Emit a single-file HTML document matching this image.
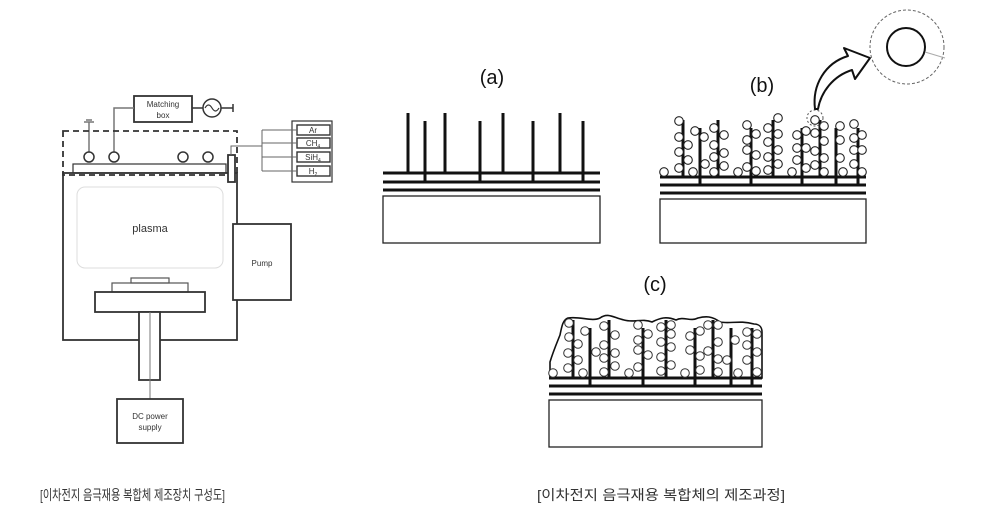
<!DOCTYPE html>
<html><head><meta charset="utf-8"><style>
html,body{margin:0;padding:0;background:#fff}
svg{display:block}
text{font-family:"Liberation Sans","Noto Sans CJK KR",sans-serif}
</style></head><body>
<svg width="990" height="510" viewBox="0 0 990 510" xmlns="http://www.w3.org/2000/svg">
<g fill="none" stroke="#333" stroke-width="1.5">
  <!-- matching box -->
  <rect x="134" y="96" width="58" height="26" stroke-width="1.8"/>
  <line x1="192" y1="108" x2="203" y2="108"/>
  <circle cx="212" cy="108" r="9"/>
  <path d="M205,108 q3.5,-6 7,0 t7,0" stroke-width="1.2"/>
  <line x1="221" y1="108" x2="233" y2="108"/>
  <line x1="233" y1="104" x2="233" y2="112"/>
  <!-- wire from box to circle -->
  <polyline points="134,108 114,108 114,152" stroke="#777"/>
  <line x1="89" y1="152" x2="89" y2="122" stroke="#777"/>
  <path d="M84,122 h10 M86,120 h6" stroke="#777"/>
  <!-- dashed rect -->
  <rect x="63" y="131" width="174" height="44" stroke-dasharray="6,4" stroke-width="1.8"/>
  <circle cx="89" cy="157" r="5"/><circle cx="114" cy="157" r="5"/>
  <circle cx="183" cy="157" r="5"/><circle cx="208" cy="157" r="5"/>
  <rect x="73" y="164" width="153" height="9" stroke-width="1.2"/>
  <!-- chamber -->
  <rect x="63" y="173" width="174" height="167" stroke-width="1.8"/>
  <rect x="228" y="155" width="7" height="27" fill="#fff" stroke-width="1.8"/>
  <rect x="77" y="187" width="146" height="81" rx="8" stroke="#ddd" stroke-width="1"/>
  <!-- gas -->
  <rect x="292" y="121" width="40" height="61" stroke-width="1.2"/>
  <rect x="297" y="125" width="33" height="10" stroke-width="1.4"/>
  <rect x="297" y="138" width="33" height="10" stroke-width="1.4"/>
  <rect x="297" y="152" width="33" height="10" stroke-width="1.4"/>
  <rect x="297" y="166" width="33" height="10" stroke-width="1.4"/>
  <g stroke="#666" stroke-width="1">
  <line x1="262" y1="130" x2="262" y2="171"/>
  <line x1="262" y1="130" x2="297" y2="130"/>
  <line x1="262" y1="143" x2="297" y2="143"/>
  <line x1="262" y1="157" x2="297" y2="157"/>
  <line x1="262" y1="171" x2="297" y2="171"/>
  <polyline points="231,155 231,146 262,146"/>
  </g>
  <!-- pump -->
  <rect x="233" y="224" width="58" height="76" stroke-width="1.8" fill="#fff"/>
  <!-- stage -->
  <rect x="131" y="278" width="38" height="5" stroke="#555" stroke-width="1.2"/>
  <rect x="112" y="283" width="76" height="9" stroke="#555" stroke-width="1.2"/>
  <rect x="95" y="292" width="110" height="20" stroke-width="1.8"/>
  <rect x="139" y="312" width="21" height="68" stroke-width="1.8" fill="#fff"/>
  <line x1="150" y1="312" x2="150" y2="399" stroke="#777" stroke-width="1"/>
  <rect x="117" y="399" width="66" height="44" stroke-width="1.8"/>
</g>
<g fill="#333" font-size="8" text-anchor="middle">
  <text x="163" y="107">Matching</text><text x="163" y="118">box</text>
  <text x="313" y="133">Ar</text>
  <text x="313" y="146">CH<tspan font-size="5" dy="2">4</tspan></text>
  <text x="313" y="160">SiH<tspan font-size="5" dy="2">4</tspan></text>
  <text x="313" y="174">H<tspan font-size="5" dy="2">2</tspan></text>
  <text x="150" y="232" font-size="11">plasma</text>
  <text x="262" y="266">Pump</text>
  <text x="150" y="419">DC power</text><text x="150" y="430">supply</text>
</g>

<!-- (a) -->
<text x="492" y="84" font-size="20" fill="#111" text-anchor="middle">(a)</text>
<g stroke="#111" stroke-width="3">
  <line x1="383" y1="173" x2="600" y2="173"/>
  <line x1="383" y1="182" x2="600" y2="182"/>
  <line x1="383" y1="190" x2="600" y2="190"/>
  <line x1="408" y1="113" x2="408" y2="173"/><line x1="425" y1="121" x2="425" y2="182"/>
  <line x1="445" y1="113" x2="445" y2="173"/><line x1="480" y1="121" x2="480" y2="182"/>
  <line x1="503" y1="113" x2="503" y2="173"/><line x1="533" y1="121" x2="533" y2="182"/>
  <line x1="560" y1="113" x2="560" y2="173"/><line x1="583" y1="121" x2="583" y2="182"/>
</g>
<rect x="383" y="196" width="217" height="47" fill="none" stroke="#222" stroke-width="1.3"/>

<!-- (b) -->
<text x="762" y="92" font-size="20" fill="#111" text-anchor="middle">(b)</text>
<g stroke="#111" stroke-width="3">
  <line x1="660" y1="177" x2="866" y2="177"/>
  <line x1="660" y1="185" x2="866" y2="185"/>
  <line x1="660" y1="193" x2="866" y2="193"/>
  <line x1="683" y1="120" x2="683" y2="177"/><line x1="700" y1="128" x2="700" y2="185"/>
  <line x1="718" y1="120" x2="718" y2="177"/><line x1="751" y1="128" x2="751" y2="185"/>
  <line x1="773" y1="120" x2="773" y2="177"/><line x1="802" y1="128" x2="802" y2="185"/>
  <line x1="820" y1="120" x2="820" y2="177"/><line x1="836" y1="128" x2="836" y2="185"/>
  <line x1="858" y1="128" x2="858" y2="185"/>
</g>
<rect x="660" y="199" width="206" height="44" fill="none" stroke="#222" stroke-width="1.3"/>
<g fill="#fff" stroke="#222" stroke-width="1.1">
  <circle cx="664" cy="172" r="4.3"/><circle cx="679" cy="121" r="4.3"/><circle cx="679" cy="137" r="4.3"/>
  <circle cx="679" cy="152" r="4.3"/><circle cx="679" cy="168" r="4.3"/><circle cx="688" cy="145" r="4.3"/>
  <circle cx="688" cy="160" r="4.3"/><circle cx="693" cy="172" r="4.3"/><circle cx="695" cy="131" r="4.3"/>
  <circle cx="704" cy="137" r="4.3"/><circle cx="705" cy="164" r="4.3"/><circle cx="714" cy="128" r="4.3"/>
  <circle cx="714" cy="145" r="4.3"/><circle cx="714" cy="157" r="4.3"/><circle cx="714" cy="172" r="4.3"/>
  <circle cx="724" cy="135" r="4.3"/><circle cx="724" cy="153" r="4.3"/><circle cx="724" cy="166" r="4.3"/>
  <circle cx="738" cy="172" r="4.3"/><circle cx="747" cy="125" r="4.3"/><circle cx="747" cy="140" r="4.3"/>
  <circle cx="747" cy="150" r="4.3"/><circle cx="747" cy="167" r="4.3"/><circle cx="756" cy="134" r="4.3"/>
  <circle cx="756" cy="155" r="4.3"/><circle cx="756" cy="171" r="4.3"/><circle cx="768" cy="128" r="4.3"/>
  <circle cx="768" cy="142" r="4.3"/><circle cx="768" cy="157" r="4.3"/><circle cx="768" cy="170" r="4.3"/>
  <circle cx="778" cy="118" r="4.3"/><circle cx="778" cy="134" r="4.3"/><circle cx="778" cy="150" r="4.3"/>
  <circle cx="778" cy="164" r="4.3"/><circle cx="792" cy="172" r="4.3"/><circle cx="797" cy="135" r="4.3"/>
  <circle cx="797" cy="148" r="4.3"/><circle cx="797" cy="160" r="4.3"/><circle cx="806" cy="131" r="4.3"/>
  <circle cx="806" cy="148" r="4.3"/><circle cx="806" cy="168" r="4.3"/><circle cx="815" cy="120" r="4.3"/>
  <circle cx="815" cy="133" r="4.3"/><circle cx="815" cy="151" r="4.3"/><circle cx="815" cy="165" r="4.3"/>
  <circle cx="824" cy="126" r="4.3"/><circle cx="824" cy="141" r="4.3"/><circle cx="824" cy="158" r="4.3"/>
  <circle cx="824" cy="172" r="4.3"/><circle cx="840" cy="126" r="4.3"/><circle cx="840" cy="140" r="4.3"/>
  <circle cx="840" cy="158" r="4.3"/><circle cx="843" cy="172" r="4.3"/><circle cx="854" cy="124" r="4.3"/>
  <circle cx="854" cy="138" r="4.3"/><circle cx="854" cy="150" r="4.3"/><circle cx="854" cy="164" r="4.3"/>
  <circle cx="862" cy="135" r="4.3"/><circle cx="862" cy="150" r="4.3"/><circle cx="862" cy="172" r="4.3"/>
</g>
<circle cx="815" cy="118" r="8" fill="none" stroke="#555" stroke-width="1" stroke-dasharray="2,2"/>
<path d="M815,109 C812,85 825,63 848,56 L844,48 L870,58 L855,79 L852,70 C833,76 821,92 818,109 Z" fill="#fff" stroke="#111" stroke-width="2" stroke-linejoin="round"/>
<circle cx="907" cy="47" r="37" fill="none" stroke="#666" stroke-width="1" stroke-dasharray="3,2"/>
<circle cx="906" cy="47" r="19" fill="none" stroke="#111" stroke-width="2"/>
<line x1="925" y1="52" x2="945" y2="58" stroke="#aaa" stroke-width="1"/>

<!-- (c) -->
<text x="655" y="291" font-size="20" fill="#111" text-anchor="middle">(c)</text>
<path d="M550,378 L550,362 C553,352 556,345 560,335 C562,325 563,320 568,318 C580,316 592,322 600,318 C608,312 614,318 624,320 C634,323 642,318 652,322 C660,318 666,316 676,320 C684,316 690,322 698,318 C706,316 712,316 720,322 C730,324 740,320 754,324 C760,324 762,328 762,332 L762,378 Z" fill="#fff" stroke="#111" stroke-width="1.6"/>
<g stroke="#111" stroke-width="3">
  <line x1="549" y1="378" x2="762" y2="378"/>
  <line x1="549" y1="386" x2="762" y2="386"/>
  <line x1="549" y1="394" x2="762" y2="394"/>
  <line x1="573" y1="320" x2="573" y2="378"/><line x1="590" y1="328" x2="590" y2="386"/>
  <line x1="609" y1="320" x2="609" y2="378"/><line x1="643" y1="328" x2="643" y2="386"/>
  <line x1="666" y1="320" x2="666" y2="378"/><line x1="695" y1="328" x2="695" y2="386"/>
  <line x1="713" y1="320" x2="713" y2="378"/><line x1="731" y1="328" x2="731" y2="386"/>
  <line x1="752" y1="328" x2="752" y2="386"/>
</g>
<rect x="549" y="400" width="213" height="47" fill="none" stroke="#222" stroke-width="1.3"/>
<g fill="#fff" stroke="#333" stroke-width="1">
  <circle cx="553" cy="373" r="4.3"/><circle cx="569" cy="323" r="4.3"/><circle cx="569" cy="337" r="4.3"/>
  <circle cx="568" cy="353" r="4.3"/><circle cx="568" cy="368" r="4.3"/><circle cx="578" cy="344" r="4.3"/>
  <circle cx="578" cy="360" r="4.3"/><circle cx="583" cy="373" r="4.3"/><circle cx="585" cy="331" r="4.3"/>
  <circle cx="596" cy="352" r="4.3"/><circle cx="604" cy="326" r="4.3"/><circle cx="604" cy="345" r="4.3"/>
  <circle cx="604" cy="358" r="4.3"/><circle cx="604" cy="372" r="4.3"/><circle cx="615" cy="335" r="4.3"/>
  <circle cx="615" cy="353" r="4.3"/><circle cx="615" cy="366" r="4.3"/><circle cx="629" cy="373" r="4.3"/>
  <circle cx="638" cy="325" r="4.3"/><circle cx="638" cy="340" r="4.3"/><circle cx="638" cy="350" r="4.3"/>
  <circle cx="638" cy="367" r="4.3"/><circle cx="648" cy="334" r="4.3"/><circle cx="648" cy="355" r="4.3"/>
  <circle cx="661" cy="327" r="4.3"/><circle cx="661" cy="342" r="4.3"/><circle cx="661" cy="357" r="4.3"/>
  <circle cx="661" cy="371" r="4.3"/><circle cx="671" cy="325" r="4.3"/><circle cx="671" cy="334" r="4.3"/>
  <circle cx="671" cy="347" r="4.3"/><circle cx="671" cy="365" r="4.3"/><circle cx="685" cy="373" r="4.3"/>
  <circle cx="690" cy="336" r="4.3"/><circle cx="690" cy="350" r="4.3"/><circle cx="700" cy="331" r="4.3"/>
  <circle cx="700" cy="356" r="4.3"/><circle cx="700" cy="370" r="4.3"/><circle cx="708" cy="325" r="4.3"/>
  <circle cx="708" cy="351" r="4.3"/><circle cx="718" cy="325" r="4.3"/><circle cx="718" cy="342" r="4.3"/>
  <circle cx="718" cy="359" r="4.3"/><circle cx="718" cy="372" r="4.3"/><circle cx="735" cy="340" r="4.3"/>
  <circle cx="738" cy="373" r="4.3"/><circle cx="747" cy="332" r="4.3"/><circle cx="747" cy="345" r="4.3"/>
  <circle cx="747" cy="360" r="4.3"/><circle cx="757" cy="334" r="4.3"/><circle cx="757" cy="352" r="4.3"/>
  <circle cx="757" cy="372" r="4.3"/><circle cx="727" cy="360" r="4.3"/>
</g>

<!-- captions -->
<text x="40" y="500" font-size="14" fill="#333" textLength="185" lengthAdjust="spacingAndGlyphs">[이차전지 음극재용 복합체 제조장치 구성도]</text>
<text x="537" y="500" font-size="14" fill="#333" textLength="248" lengthAdjust="spacingAndGlyphs">[이차전지 음극재용 복합체의 제조과정]</text>
</svg>
</body></html>
